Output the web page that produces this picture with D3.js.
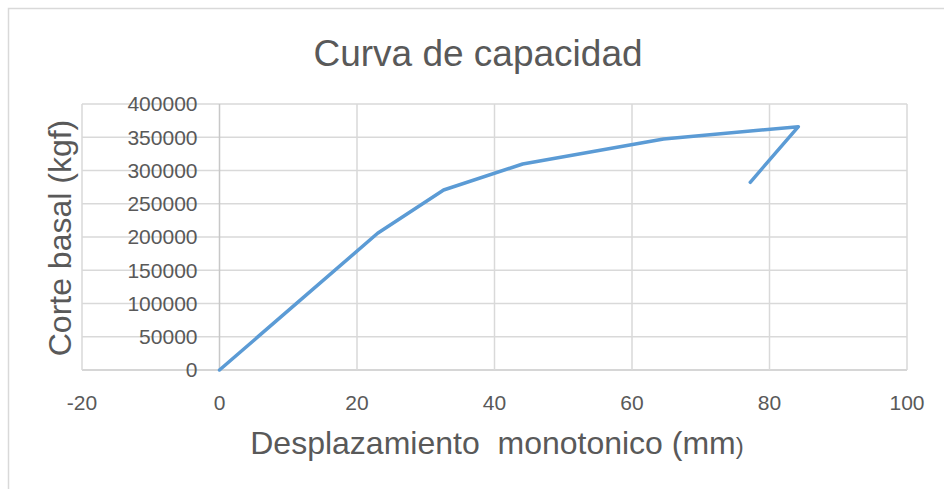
<!DOCTYPE html>
<html>
<head>
<meta charset="utf-8">
<script src="https://cdn.jsdelivr.net/npm/d3@7"></script>
<style>
  html, body { margin: 0; padding: 0; background: #fff; }
  svg { display: block; font-family: "Liberation Sans", Arial, sans-serif; }
</style>
</head>
<body>
<svg id="chart" width="944" height="489"></svg>
<script>
// ---- data ----
const desplazamiento = [0, 23.0, 32.6, 44.1, 64.6, 84.2, 77.2];
const corteBasal = [0, 205600, 270700, 309800, 347400, 365900, 282300];
const xTicks = [-20, 0, 20, 40, 60, 80, 100];
const yTicks = [0, 50000, 100000, 150000, 200000, 250000, 300000, 350000, 400000];
const chartTitle = "Curva de capacidad";
const xTitle = "Desplazamiento  monotonico (mm";
const yTitle = "Corte basal (kgf)";

const svg = d3.select("#chart");
const textColor = "#595959";
const gridColor = "#d9d9d9";

// outer chart border (top and left visible)
svg.append("path")
  .attr("d", "M8.5,489 V8.5 H944")
  .attr("fill", "none").attr("stroke", "#d9d9d9").attr("stroke-width", 1.5);

const x = d3.scaleLinear().domain([-20, 100]).range([82, 907]);
const y = d3.scaleLinear().domain([0, 400000]).range([370, 104]);

// gridlines
const g = svg.append("g");
g.selectAll("line.h").data(yTicks).join("line")
  .attr("x1", x(-20)).attr("x2", x(100))
  .attr("y1", d => y(d)).attr("y2", d => y(d))
  .attr("stroke", d => d === 0 ? "#c8c8c8" : gridColor).attr("stroke-width", 1.5);
g.selectAll("line.v").data(xTicks).join("line")
  .attr("y1", y(0)).attr("y2", y(400000))
  .attr("x1", d => x(d)).attr("x2", d => x(d))
  .attr("stroke", d => d === 0 ? "#c8c8c8" : gridColor).attr("stroke-width", 1.5);

// y tick labels (next to x=0 axis)
svg.append("g").selectAll("text").data(yTicks).join("text")
  .attr("x", x(0) - 22).attr("y", d => y(d))
  .attr("dy", "0.35em")
  .attr("text-anchor", "end")
  .attr("fill", textColor).attr("font-size", 21)
  .text(d => d3.format("d")(d));

// x tick labels
svg.append("g").selectAll("text").data(xTicks).join("text")
  .attr("x", d => x(d)).attr("y", 410)
  .attr("text-anchor", "middle")
  .attr("fill", textColor).attr("font-size", 21)
  .text(d => d);

// line
const line = d3.line().x(d => x(d[0])).y(d => y(d[1]));
svg.append("path")
  .datum(desplazamiento.map((d, i) => [d, corteBasal[i]]))
  .attr("d", line)
  .attr("fill", "none").attr("stroke", "#5b9bd5").attr("stroke-width", 3.5)
  .attr("stroke-linejoin", "round").attr("stroke-linecap", "round");

// titles
svg.append("text")
  .attr("x", 478).attr("y", 66)
  .attr("text-anchor", "middle").attr("fill", textColor).attr("font-size", 37)
  .text(chartTitle);

const xt = svg.append("text")
  .attr("x", 497).attr("y", 454)
  .attr("text-anchor", "middle").attr("fill", textColor).attr("font-size", 32)
  .style("white-space", "pre");
xt.append("tspan").text(xTitle);
xt.append("tspan").attr("font-size", 24).text(")");

svg.append("text")
  .attr("transform", "translate(71,238) rotate(-90)")
  .attr("text-anchor", "middle").attr("fill", textColor).attr("font-size", 32)
  .text(yTitle);
</script>
</body>
</html>
